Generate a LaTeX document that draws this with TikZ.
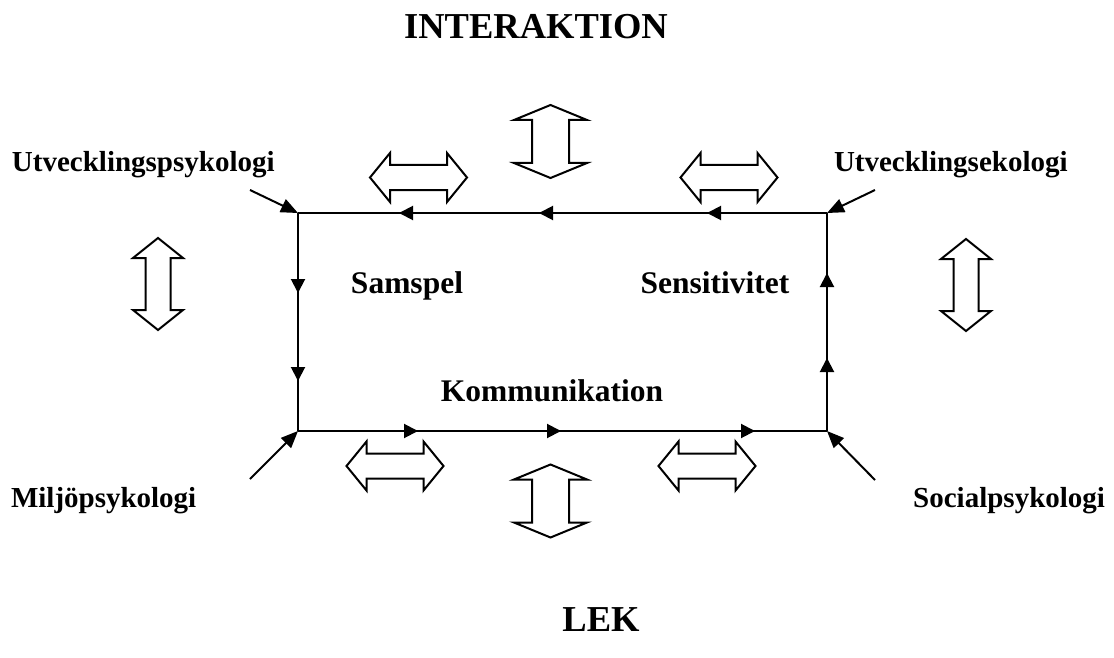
\documentclass[tikz,border=0pt]{standalone}
\usepackage{fontspec}
\setmainfont{Liberation Serif}
\usetikzlibrary{arrows.meta,decorations.markings}
\newcommand\hblk[6]{%
 \draw[blk] ({#1-#3},{#2}) -- ({#1-#3+#5},{#2-#4}) -- ({#1-#3+#5},{#2-#6}) -- ({#1+#3-#5},{#2-#6}) -- ({#1+#3-#5},{#2-#4}) -- ({#1+#3},{#2}) -- ({#1+#3-#5},{#2+#4}) -- ({#1+#3-#5},{#2+#6}) -- ({#1-#3+#5},{#2+#6}) -- ({#1-#3+#5},{#2+#4}) -- cycle;}
\newcommand\vblk[6]{%
 \draw[blk] ({#1},{#2-#4}) -- ({#1+#3},{#2-#4+#5}) -- ({#1+#6},{#2-#4+#5}) -- ({#1+#6},{#2+#4-#5}) -- ({#1+#3},{#2+#4-#5}) -- ({#1},{#2+#4}) -- ({#1-#3},{#2+#4-#5}) -- ({#1-#6},{#2+#4-#5}) -- ({#1-#6},{#2-#4+#5}) -- ({#1-#3},{#2-#4+#5}) -- cycle;}
\tikzset{mtip/.tip={Triangle[length=14pt,width=14pt]}}
\begin{document}
\begin{tikzpicture}[x=1pt,y=-1pt,line width=2pt,
 lbl/.style={font=\bfseries\fontsize{29}{34}\selectfont,inner sep=0pt},
 inner/.style={font=\bfseries\fontsize{31.5}{36}\selectfont,inner sep=0pt},
 ttl/.style={font=\bfseries\fontsize{36.5}{42}\selectfont,inner sep=0pt},
 tip/.style={-{Triangle[length=17pt,width=14pt]}},
 blk/.style={draw,line width=2pt,fill=white,line join=miter},
 marks/.style={postaction={decorate},decoration={markings,#1}}]
\useasboundingbox (0,0) rectangle (1114,658);
% corners
\coordinate (ul) at (298,213);
\coordinate (ur) at (827,213);
\coordinate (ll) at (298,431);
\coordinate (lr) at (827,431);
% rectangle edges with mid arrows
\draw[marks={mark=at position 120pt with {\arrow{mtip}},mark=at position 288pt with {\arrow{mtip}},mark=at position 428pt with {\arrow{mtip}}}] (ur) -- (ul);
\draw[marks={mark=at position 80pt with {\arrow{mtip}},mark=at position 168pt with {\arrow{mtip}}}] (ul) -- (ll);
\draw[marks={mark=at position 120pt with {\arrow{mtip}},mark=at position 263pt with {\arrow{mtip}},mark=at position 457pt with {\arrow{mtip}}}] (ll) -- (lr);
\draw[marks={mark=at position 73pt with {\arrow{mtip}},mark=at position 158pt with {\arrow{mtip}}}] (lr) -- (ur);
% corner arrows
\coordinate (s1) at (250,190);
\coordinate (s2) at (875,190);
\coordinate (s3) at (250,479);
\coordinate (s4) at (875,480);
\draw[tip] (s1) -- (ul);
\draw[tip] (s2) -- (ur);
\draw[tip] (s3) -- (ll);
\draw[tip] (s4) -- (lr);
% block arrows
\hblk{418.5}{177.5}{48.5}{24.5}{20}{12.5}
\hblk{729}{177.5}{48.5}{24.5}{20}{12.5}
\hblk{395}{466}{48.5}{24.5}{20}{12.5}
\hblk{707}{466}{48.5}{24.5}{20}{12.5}
\vblk{550.5}{141.5}{36.5}{36.5}{15}{18.5}
\vblk{550.5}{501}{36.5}{36.5}{15}{18.5}
\vblk{158}{284}{25}{46}{20}{12.5}
\vblk{966}{285}{25}{46}{20}{12.5}
% texts
\node[ttl] (t1) at (536,27) {INTERAKTION};
\node[ttl] (t2) at (601,620) {LEK};
\node[lbl,anchor=west] (a) at (11,165) {Utvecklingspsykologi};
\node[lbl,anchor=west] (b) at (833,165) {Utvecklingsekologi};
\node[lbl,anchor=west] (c) at (10,501) {Miljöpsykologi};
\node[lbl,anchor=east] (d) at (1106,501) {Socialpsykologi};
\node[inner,anchor=base] (e) at (407,293) {Samspel};
\node[inner,anchor=base] (f) at (715,293) {Sensitivitet};
\node[inner] (g) at (552,391) {Kommunikation};
\end{tikzpicture}
\end{document}
